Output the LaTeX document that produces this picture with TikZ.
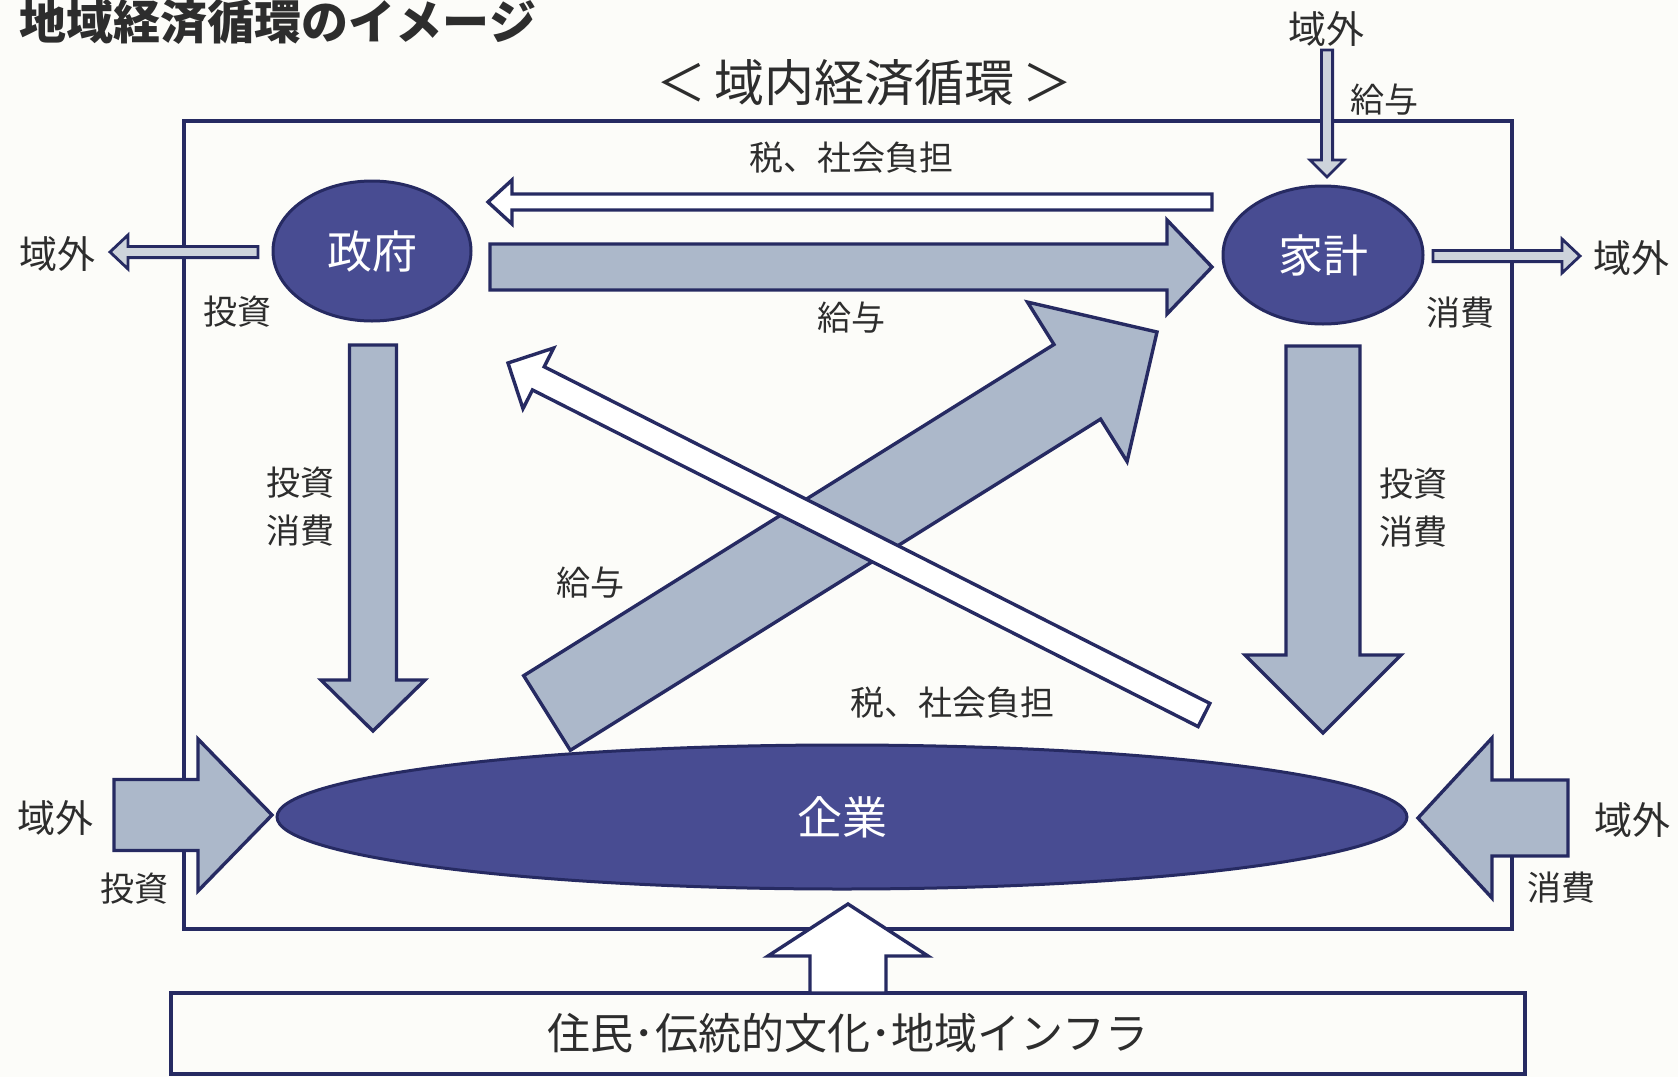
\documentclass[tikz,border=0pt]{standalone}
\usepackage{fontspec}
\setmainfont{Noto Sans CJK JP}
\usetikzlibrary{calc,shapes.geometric}
\definecolor{navy}{RGB}{38,42,98}
\definecolor{ellfill}{RGB}{72,76,146}
\definecolor{arrfill}{RGB}{172,184,202}
\definecolor{thinfill}{RGB}{205,211,219}
\definecolor{bgc}{RGB}{252,252,249}
\definecolor{txt}{RGB}{45,45,45}
% #1 tail coord, #2 tip coord, #3 half shaft, #4 half head, #5 head length, #6 style
\newcommand\blockarr[6]{%
  \path ($(#2)!#5!(#1)$) coordinate (hb);
  \draw[#6] ($(#1)!#3!90:(#2)$) -- ($(hb)!#3!90:(#2)$) -- ($(hb)!#4!90:(#2)$) -- (#2)
    -- ($(hb)!#4!-90:(#2)$) -- ($(hb)!#3!-90:(#2)$) -- ($(#1)!#3!-90:(#2)$) -- cycle;}
\begin{document}
\begin{tikzpicture}[x=0.5pt,y=-0.5pt,
  lab/.style={font=\fontsize{17}{21}\selectfont, text=txt, inner sep=0pt},
  outl/.style={font=\fontsize{19}{23}\selectfont, text=txt, inner sep=0pt},
  ell/.style={ellipse, fill=ellfill, draw=navy, line width=1.5pt, inner sep=0pt, text=white, font=\fontsize{22.5}{27}\selectfont},
  greyarr/.style={fill=arrfill, draw=navy, line width=1.7pt},
  whitearr/.style={fill=white, draw=navy, line width=1.7pt},
  thinarr/.style={fill=thinfill, draw=navy, line width=1.4pt},
  frame/.style={draw=navy, line width=2pt, inner sep=0pt}]
\useasboundingbox (0,0) rectangle (1678,1077);
\clip (0,0) rectangle (1678,1077);
\fill[bgc] (0,0) rectangle (1678,1077);

% title
\node[font=\bfseries\fontsize{23.5}{28}\selectfont, text=txt, inner sep=0pt] (title) at (278,22) {地域経済循環のイメージ};
\node[font=\fontsize{25}{30}\selectfont, text=txt, inner sep=0pt] (sub) at (864,83) {＜\hspace*{4pt}域内経済循環\hspace*{4pt}＞};

% frame and base box
\node[frame, minimum width=664pt, minimum height=404pt] (region) at (848,525) {};
\node[draw=navy, line width=1.6pt, inner sep=0pt, minimum width=677pt, minimum height=40.5pt,
      font=\fontsize{21.5}{26}\selectfont, text=txt] (base) at (848,1033.5) {住民･伝統的文化･地域インフラ};

% ellipses
\node[ell, minimum width=99pt, minimum height=70pt] (gov) at (372,251) {政府};
\node[ell, minimum width=100pt, minimum height=69pt] (hh) at (1323,255) {家計};
\node[ell, minimum width=565pt, minimum height=72pt] (firm) at (842,817) {企業};

% coordinates for arrow ends
\coordinate (a1s) at (1212,202);  \coordinate (a1e) at (488,202);
\coordinate (a2s) at (490,267);   \coordinate (a2e) at (1212,267);
\coordinate (a3s) at (258,252);   \coordinate (a3e) at (110,252);
\coordinate (a4s) at (1433,256);  \coordinate (a4e) at (1580,256);
\coordinate (a5s) at (1327,50);   \coordinate (a5e) at (1327,177);
\coordinate (a6s) at (373,345);   \coordinate (a6e) at (373,731);
\coordinate (a7s) at (1323,346);  \coordinate (a7e) at (1323,733);
\coordinate (a8s) at (547,713);   \coordinate (a8e) at (1157,332);
\coordinate (a9s) at (1204,715);  \coordinate (a9e) at (508,363);
\coordinate (a10s) at (114,815);  \coordinate (a10e) at (272,815);
\coordinate (a11s) at (1568,818); \coordinate (a11e) at (1418,818);
\coordinate (a12s) at (848,993);  \coordinate (a12e) at (848,904);

% arrows
\blockarr{a1s}{a1e}{4pt}{11pt}{12pt}{whitearr}
\blockarr{a2s}{a2e}{11.5pt}{23.5pt}{22.5pt}{greyarr}
\blockarr{a3s}{a3e}{2.8pt}{8.5pt}{9pt}{thinarr}
\blockarr{a4s}{a4e}{2.8pt}{8.5pt}{9pt}{thinarr}
\blockarr{a5s}{a5e}{2.8pt}{8.5pt}{8.5pt}{thinarr}
\blockarr{a6s}{a6e}{11.75pt}{26pt}{25.5pt}{greyarr}
\blockarr{a7s}{a7e}{18.5pt}{39pt}{39pt}{greyarr}
\blockarr{a8s}{a8e}{22pt}{47pt}{47pt}{greyarr}
\blockarr{a9s}{a9e}{6.5pt}{17pt}{17pt}{whitearr}
\blockarr{a10s}{a10e}{17.75pt}{38pt}{37pt}{greyarr}
\blockarr{a11s}{a11e}{19pt}{40pt}{37pt}{greyarr}
\blockarr{a12s}{a12e}{19pt}{40pt}{26pt}{whitearr}

% labels
\node[outl] (o1) at (1326,29) {域外};
\node[lab] (l1) at (1384,100) {給与};
\node[outl] (o2) at (57,254) {域外};
\node[lab] (l2) at (237,312) {投資};
\node[outl] (o3) at (1631,258) {域外};
\node[lab] (l3) at (1460,313) {消費};
\node[lab] (l4) at (851,158) {税、社会負担};
\node[lab] (l5) at (851,318) {給与};
\node[lab, align=center] (l6) at (300,507) {投資\\[3pt]消費};
\node[lab, align=center] (l7) at (1413,508) {投資\\[3pt]消費};
\node[lab] (l8) at (590,583) {給与};
\node[lab] (l9) at (952,703) {税、社会負担};
\node[outl] (o4) at (56,818) {域外};
\node[lab] (l10) at (134,889) {投資};
\node[outl] (o5) at (1632,820) {域外};
\node[lab] (l11) at (1561,888) {消費};
\end{tikzpicture}
\end{document}
